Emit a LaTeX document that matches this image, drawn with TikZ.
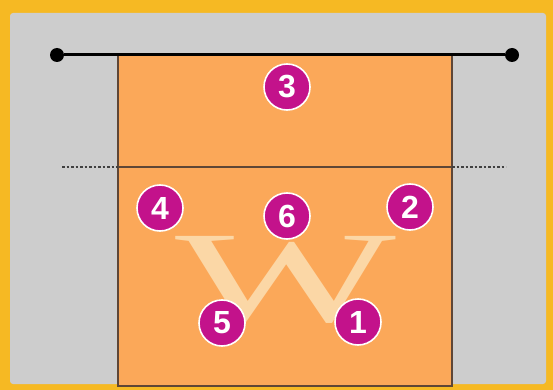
\documentclass[tikz,border=0pt]{standalone}
\usepackage{fontspec}
\setsansfont{Liberation Sans}
\newfontfamily\wfont{Liberation Serif}
\usetikzlibrary{positioning, calc}

\definecolor{frameyellow}{HTML}{F6B923}
\definecolor{outgray}{HTML}{CDCDCD}
\definecolor{courtorange}{HTML}{FBA859}
\definecolor{courtline}{HTML}{5E4636}
\definecolor{playermag}{HTML}{C3128B}
\definecolor{wpale}{HTML}{FBD7A6}

\begin{document}
\begin{tikzpicture}[x=1pt, y=-1pt,
        % Style for the numbered player discs
        player/.style={
            circle,
            fill=playermag,
            draw=white,
            line width=1.6pt,
            minimum size=46pt,
            inner sep=0pt,
            text=white,
            font=\sffamily\bfseries\fontsize{32}{32}\selectfont
        },
        % Style for the posts at the ends of the net
        netpost/.style={
            circle,
            fill=black,
            minimum size=14pt,
            inner sep=0pt
        },
        % Style for the lines of the court
        courtedge/.style={
            draw=courtline,
            line width=2pt
        }
    ]

    % ==========================================
    % BACKGROUND AND COURT
    % ==========================================
    \useasboundingbox (0,0) rectangle (553,390);
    \fill[frameyellow] (0,0) rectangle (553,390);
    \fill[outgray, rounded corners=3pt] (10,13) rectangle (546,384);
    \fill[courtorange] (118,55) rectangle (452,386);
    \draw[courtedge] (118,55) -- (118,386) -- (452,386) -- (452,55);

    % Big pale letter behind the players
    \node[text=wpale, font=\wfont\fontsize{130}{130}\selectfont, xscale=1.8, transform shape,
          inner sep=0pt, anchor=base] (wletter) at (286,321) {W};

    % Attack line, dashed outside the court
    \coordinate (attackL) at (62,167);
    \coordinate (attackR) at (506,167);
    \draw[courtedge, line width=1.6pt] (118,167) -- (452,167);
    \draw[black!75, line width=1.2pt, dash pattern=on 2.5pt off 2pt] (attackL) -- (118,167);
    \draw[black!75, line width=1.2pt, dash pattern=on 2.5pt off 2pt] (452,167) -- (attackR);

    % Net with its two posts
    \node[netpost] (postL) at (57,55) {};
    \node[netpost] (postR) at (512,55) {};
    \draw[line width=3pt] (postL) -- (postR);

    % ==========================================
    % PLAYERS
    % ==========================================
    \node[player] (p3) at (287,87) {3};
    \node[player] (p4) at (160,208) {4};
    \node[player] (p6) at (287,216) {6};
    \node[player] (p2) at (410,207) {2};
    \node[player] (p5) at (222,323) {5};
    \node[player] (p1) at (358,322) {1};

\end{tikzpicture}
\end{document}
